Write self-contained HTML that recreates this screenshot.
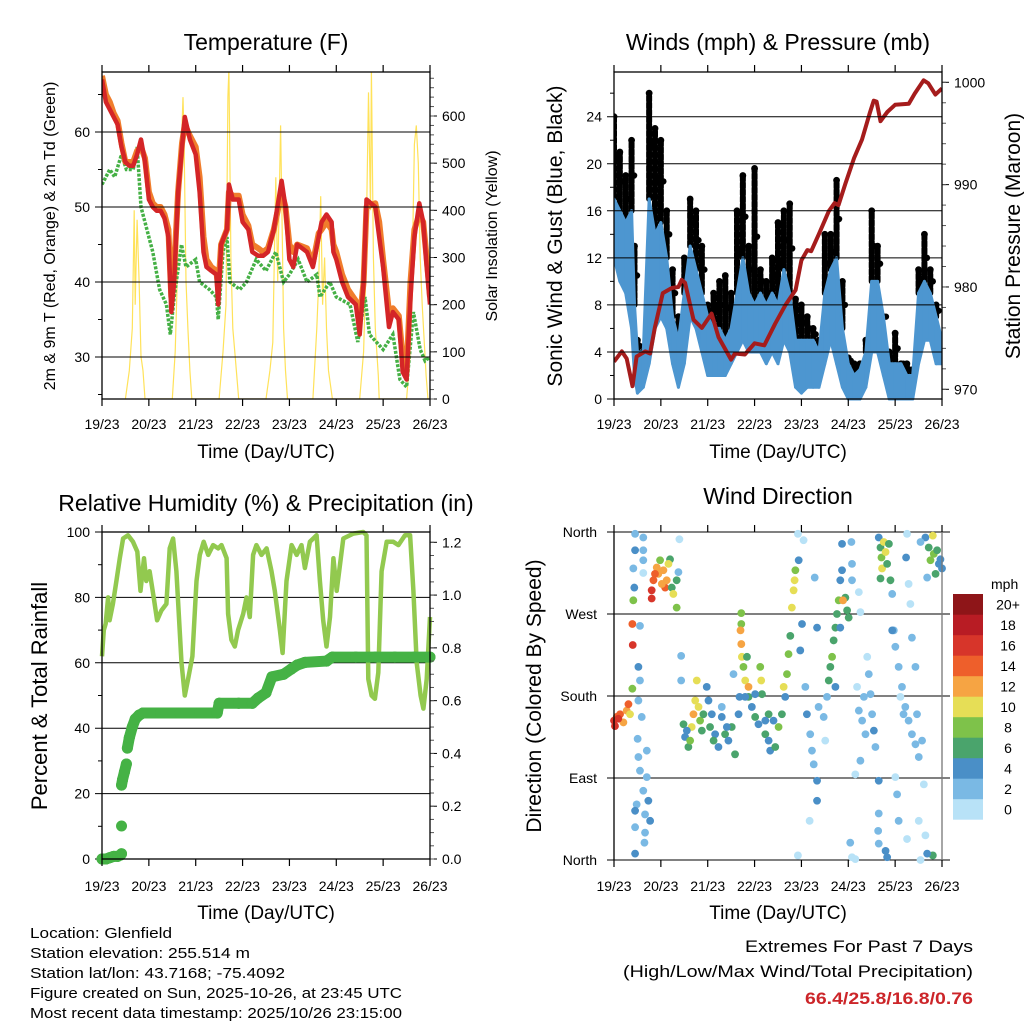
<!DOCTYPE html>
<html><head><meta charset="utf-8"><style>
html,body{margin:0;padding:0;background:#fff}
svg{display:block;font-family:"Liberation Sans",Arial,sans-serif}
</style></head><body>
<svg id="c" width="1024" height="1024" viewBox="0 0 1024 1024"></svg>
<script>
// ---------- DATA ----------
const dayLabels=["19/23","20/23","21/23","22/23","23/23","24/23","25/23","26/23"];
// Temperature (F)
const tempT=[0,2,4,6,8,10,12,14,16,18,20,22,24,26,28,30,32,34,35.5,37,39,41,42.4,45,48,50,52,53.5,56,58.6,59.5,61,64,65,67,70,72,75,77,80,82.5,85,88,92,94,96,98,100,105,108,111,112.5,115,117.6,118.5,120,123,126,130,132,134,135.5,140,142,144,147,149,152,154,156,158,160,162.5,164.5,166,168];
const temp2m=[67,64,63,62,61,58,56,55.5,55.5,57,59,56,51,50,49.5,49.5,48.5,46,36,40,52,58,62,59,57,52,44,42,41.5,41,37,45,47,53,51,51,48,47,44,43.5,43.5,44,47,53.5,50,43,42,45,44,42,46,48,49,48,44,43,40,38,37,33,40,51,50,46,42,34,36,35,28,27,38,46,50.5,48,43,37];
const temp9m=[67.5,65,64,62.5,61.5,58.5,56,56,56,57.5,58,56.5,52,50.5,50,50,49,47,38,42,52,58.5,61,59.5,58,54,46,43,42,41.5,39,45,47,52,51.5,51.5,49,47.5,45,44.5,44,44.5,47,52,50,45,44,45,44.5,42.5,46.5,47,48,47,45,44,41,39,37.5,35,40,50,50.5,48,43,36,36.5,35.5,30,28,40,47,49,48,44,38];
const dewT=[0,4,6.5,10,12.5,16,18,20,23,26,29.5,33,35,37,40.7,43,48,50,55,58.6,59.5,62,64,65.5,70.6,74,79,84,89,93,96,100.5,105,110,111.6,116.7,120,127,131,134.7,137,144,149,152.6,156,159.5,163,165.5,168];
const dewF=[53,55,54,57,55,55,58,50,47,44,39,37,33,38,45,42,43,40,39,38,35,44,46,40,39,40,43,41.5,44,40,41,43,40,41,38,40,38,37,32,38,33,31,33,27,26,36,31,29.5,30];
// Solar insolation
const solT=[12,14,15.5,16.5,17,18,19,20,21,22,36,37.5,38.5,39.5,40.5,41.5,42,43,44,45,46,60,62,63.5,64.5,65,66,67,68,70,84,86,87.5,89,90,91.5,92.5,93,94,95,108,110,111,112,113,114,115,116,118,132,134,135,136.5,137.5,138,139,140,141.5,142,156,157.5,159,160,161,162,163,164,166,167];
const solV=[0,60,150,400,200,380,250,90,60,0,0,100,250,450,520,640,560,250,150,60,0,0,100,200,640,700,300,150,100,0,0,60,120,470,250,580,300,150,60,0,0,150,250,430,200,300,150,60,0,0,100,250,650,400,700,300,150,50,0,0,80,300,540,580,500,300,200,50,0];
// Winds (mph)
const windT=[0,3,6,9,10.5,12,15,18,21,24,27,30,33,36,39,42,45,48,51,54,57,60,63,66,69,72,75,78,81,84,87,90,93,96,99,102,105,108,111,114,117,120,123,126,129,132,135,138,141,144,147,150,153,156,159,162,165,168];
const windLo=[12,10,9,6,2,0.5,1,3,6,7,6,3,1,3,7,6,4,2,2,2,2,3,4,5,4,4,4,3,4,3,5,4,1,0.5,1,1,1,3,5,3,1,0,0,0,1,4,4,2,0,0,0,0,0,3,5,5,3,3];
const windHi=[17,16,15,16,8,4,4,17,14,15,12,7,5,9,13,11,9,7,6,6,5,6,9,12,9,8,9,8,9,8,11,9,5,5,5,5,4,9,11,12,6,3,2,2.5,4,10,10,7,3,3,3,2,2,9,10,9,7,5];
const gustHi=[24,21,19,22,13,5,4,26,23,22,16,11,7,12,17,16,13,8,9,10,10.5,9,16,19,13,19.6,11,10,12,15,16,16.6,8.5,8,7,6,5,14,14,18.6,10,3.5,3,3,5,16,13,7,4,5.6,3,3,2.5,11,14,11,8,5];
// Station pressure (mb)
const presT=[0,4,6.5,9.5,11.6,16,18.5,21,25,29.6,33,34.7,36.4,40.7,45,50,53.5,60,62,67,72,77,82.5,87.7,93,96,99,101,105,110,113,115,118.5,123,127,131,133,134.5,136.5,140,144,151,154,158.6,161,164.6,168];
const presV=[972.7,973.7,973.0,970.3,973.2,973.7,973.5,976.1,979.4,979.9,980.0,980.7,980.4,976.8,976.0,977.4,975.1,972.9,973.5,973.4,974.5,974.3,976.4,978.2,979.7,982.6,983.6,983.5,985.2,987.4,988.2,988.0,990.1,992.6,994.4,997.0,998.2,998.1,996.2,997.1,997.8,997.9,998.9,1000.2,999.9,998.8,999.4];
// Relative humidity (%)
const rhT=[0,0.9,1.9,3.1,3.9,5.6,7.4,9.1,10.8,13.3,15.9,18.1,19.7,21.5,22.7,24.4,26.5,28.2,30.4,33,34.7,36.4,38.1,40.7,42.4,44.1,46.3,48.4,50.1,52.1,54.4,56.9,59.5,61.2,63.8,64.6,66.3,68,69.7,72.3,74,75.7,77.4,79.1,81.7,84.3,86.8,88.5,91.1,92.5,94.5,97.1,99.7,102.2,103.9,106.5,109.9,111.6,113.3,115,116.8,118.5,120.2,121.9,123.6,128.7,133.8,135.5,136.4,138.1,139.8,141.5,143.2,145.8,149.2,151.8,155.2,157.8,159.5,161.2,163.2,164.6,166.3,168];
const rhV=[62,70,72,80,73,78,85,92,98,99,97,94,82,92,85,88,80,73,76,78,95,98,88,60,50,55,62,85,93,97,93,96,95,96,92,75,67,65,70,75,80,74,93,96,93,95,88,82,70,63,85,96,93,96,89,97,99,85,73,65,74,92,82,90,98,99.5,100,99,55,50,49,57,88,97,97,96,99,99,82,60,50,46,55,74];
// Total precipitation (in)
const prT=[0,2,4,6,8,9.5,10,10,10,10.5,11.5,12.5,13,14,15.5,17,19,21,30,40,50,59,60,70,77,80,84,87,93,97,100,104,115,118,130,140,150,160,168];
const prV=[0,0,0.005,0.01,0.01,0.015,0.02,0.125,0.28,0.3,0.33,0.36,0.42,0.46,0.5,0.53,0.545,0.553,0.553,0.553,0.553,0.553,0.59,0.59,0.59,0.61,0.63,0.69,0.7,0.72,0.735,0.745,0.75,0.765,0.765,0.765,0.765,0.765,0.765];
// Wind direction (deg) and speed (mph)
const dirT=[0,1.4,3.1,4.8,6.5,7.4,8.2,0.5,2.2,10.8,15,10.8,15,15,9.9,15,10.4,9.9,9.4,9.6,13.3,12.5,13.3,12.5,14.2,12.1,12.5,16.8,13.3,16.8,15,17.6,11.6,10.8,15.9,18.5,10.8,15.9,10.8,15.6,9.4,
19.3,19.3,20.2,21.9,22.7,23.6,25.3,26.2,27,28.7,29.6,30.4,32.1,32.1,33,33.5,27.9,21,24.5,
34.4,34.4,35.6,36.4,38.1,39.8,40.7,41.6,42.4,43.3,44.1,45,45.8,39,37.3,
47.5,48.4,50.1,51.8,53.5,55.2,56.9,58.6,60.3,62,63.8,64.3,55.2,61.2,51,49.2,57.8,
65.2,65.2,64.8,65.2,65.5,66.3,67.2,68.9,68.1,68.9,70.6,72.3,74,74.9,75.4,75.8,77.5,79.2,80,81.7,82.6,84.3,86,86.9,88.6,89.4,90.3,91.1,92,92.5,92.9,94.2,94.6,96.3,95.4,97.1,98,98.8,100.5,101.4,102.3,104,104,100.2,102.8,104,104.8,107.4,108.2,109.1,94.2,67.2,72.3,79.2,87.7,77.5,
110,110.8,111.7,112.5,113.4,114.2,115.1,115.9,116.8,118.5,119.4,120.2,117.3,116.8,121.6,121.9,121.9,113.4,115.9,121,121.9,123.6,
124.5,125.4,127.1,128.8,129.7,130.5,131.4,132.2,133.1,133.9,123.6,126.2,125.4,126.2,128,
135.6,136.5,137,137.3,138.2,139.1,139.9,140.8,141.6,136.5,142.5,135.6,135.3,135.6,139.1,139.9,135.6,
143.3,144.1,145.8,147.5,149.2,150.9,152.6,154.4,156.1,157.8,144.1,145,145.8,150.1,150.9,151.8,152.6,154.4,149.6,150.1,157,159.5,158.7,156.1,142.5,146.7,148.3,155.2,
159.5,161.2,162.1,163.3,163.8,164.7,165.5,166.4,167.2,168,160.4,163.3,160.4,157];
const dirV=[153,157,160,151,164,171,160,147,155,358,354,340,340,329,320,315,299,285,259,236,257,212,197,175,157,133,113,120,98,91,76,65,61,54,50,43,36,30,7,19,188,
296,287,307,321,314,329,318,299,307,330,299,292,307,277,316,352,325,314,303,
224,197,149,135,124,146,160,175,197,168,153,142,160,131,142,
190,175,160,138,124,157,138,131,146,116,160,179,168,204,131,146,146,
271,259,252,237,223,212,197,190,223,179,168,157,149,212,197,182,138,131,120,153,124,146,160,190,204,226,246,277,296,307,318,358,329,259,230,351,190,160,138,120,105,87,65,43,310,255,168,157,131,179,5,179,182,160,179,153,
197,212,223,241,255,270,285,307,318,288,274,266,285,347,349,325,307,190,255,19,3,1,
190,164,153,138,223,204,182,160,142,124,94,109,294,272,179,
354,343,332,320,349,338,325,347,307,309,292,87,32,51,10,3,18,
252,234,212,190,168,153,138,127,113,131,91,72,43,358,303,281,244,212,332,23,0,27,83,43,252,179,160,160,
354,343,329,356,336,314,340,325,330,320,310,5,7,349];
const dirS=[16,14,14,12,12,14,10,16,16,2,2,4,2,2,2,0,4,8,14,16,2,4,2,2,2,2,2,2,2,2,2,4,2,4,2,4,2,2,4,2,8,
16,16,14,12,12,8,12,14,12,6,6,10,6,8,2,0,10,14,12,
2,2,6,4,6,10,12,10,10,10,8,6,6,8,4,
4,4,4,4,4,4,6,4,6,6,4,4,2,2,6,6,4,
8,8,12,12,10,8,10,12,6,6,4,6,4,8,10,6,6,4,4,4,6,8,6,10,8,8,6,10,10,10,8,0,4,4,4,0,2,4,2,2,2,4,4,0,2,4,2,2,0,2,0,4,4,6,4,4,
6,6,8,6,6,6,8,4,4,6,6,6,12,4,2,2,2,4,4,2,0,0,
0,2,2,2,0,2,2,2,4,2,0,2,0,0,2,
4,6,8,10,10,10,6,6,6,6,2,4,2,2,4,4,2,
2,2,2,2,2,2,2,2,2,2,0,2,2,0,0,0,2,2,4,0,0,0,0,0,4,0,2,2,
4,6,8,10,8,6,6,4,4,4,2,6,4,2];
const speedLabels=["0","2","4","6","8","10","12","14","16","18","20+"];
const speedColors=["#b8e2f7","#7ab9e4","#4a8fc7","#4aa46c","#7ec24a","#e6de56","#f6a443","#ee5f2b","#d7352a","#b81c24","#8e1518"];

// ---------- DRAW ----------
const NS="http://www.w3.org/2000/svg";
const svg=document.getElementById('c');
function el(tag,attrs,parent){const e=document.createElementNS(NS,tag);for(const k in attrs)e.setAttribute(k,attrs[k]);(parent||svg).appendChild(e);return e;}
function txt(s,attrs,parent){const e=el('text',attrs,parent);e.textContent=s;return e;}
function lin(d0,d1,r0,r1){return v=>r0+(v-d0)*(r1-r0)/(d1-d0);}
function pathOf(ts,vs,X,Y){let d='';for(let i=0;i<ts.length;i++)d+=(i?'L':'M')+X(ts[i]).toFixed(1)+' '+Y(vs[i]).toFixed(1);return d;}

function panel(name,L,T,R,B){
  const g=el('g',{});
  
  
  const X=lin(0,168,L,R);
  return {g,X,L,T,R,B};
}
function frameAndX(p,labelY,titleY){
  const g=p.g;
  const fr=el('rect',{x:p.L,y:p.T,width:p.R-p.L,height:p.B-p.T,fill:'none',stroke:'#000','stroke-width':1.3},g);
  
  
  for(let i=0;i<dayLabels.length;i++){
    const x=p.X(i*24);
    el('line',{x1:x,y1:p.B,x2:x,y2:p.B+7,stroke:'#000','stroke-width':1.2},g);
    el('line',{x1:x,y1:p.T,x2:x,y2:p.T-7,stroke:'#000','stroke-width':1.2},g);
    const t=txt(dayLabels[i],{x:x,y:labelY,'font-size':14,'text-anchor':'middle'},g);
    
    
  }
  const xt=txt('Time (Day/UTC)',{x:(p.L+p.R)/2,y:titleY,'font-size':19,'text-anchor':'middle'},g);
  
  
}
function leftAxis(p,Y,ticks,labels,minor,fs){
  const g=p.g;
  ticks.forEach((v,i)=>{const y=Y(v);
    el('line',{x1:p.L-7,y1:y,x2:p.R,y2:y,stroke:'#000','stroke-width':1},g);
    const t=txt(labels[i],{x:p.L-12,y:y+5,'font-size':fs||14,'text-anchor':'end'},g);
    
    });
  (minor||[]).forEach(v=>{const y=Y(v);el('line',{x1:p.L-4,y1:y,x2:p.L,y2:y,stroke:'#000','stroke-width':1},g);});
}
function rightAxis(p,Y,ticks,labels,minor){
  const g=p.g;
  ticks.forEach((v,i)=>{const y=Y(v);
    el('line',{x1:p.R,y1:y,x2:p.R+7,y2:y,stroke:'#000','stroke-width':1},g);
    const t=txt(labels[i],{x:p.R+12,y:y+5,'font-size':14},g);
    
    });
  minor.forEach(v=>{const y=Y(v);if(y>=p.T-1&&y<=p.B+1)el('line',{x1:p.R,y1:y,x2:p.R+4,y2:y,stroke:'#555','stroke-width':1},g);});
}
function vtitle(g,s,x,y,fs,name){const t=txt(s,{x:x,y:y,'font-size':fs,'text-anchor':'middle',transform:`rotate(-90 ${x} ${y})`},g);}
function title(s,x,y,name){const t=txt(s,{x:x,y:y,'font-size':23,'text-anchor':'middle'});}
function range(a,b,s){const r=[];for(let v=a;v<=b+1e-9;v+=s)r.push(+v.toFixed(4));return r;}

// ===== Panel 1: Temperature =====
title('Temperature (F)',266,50,'temperature-title');
const p1=panel('temperature-panel',102,72,430,399);
const Y1=lin(30,60,357,132), S1=lin(0,600,399,116);
const cp1=el('clipPath',{id:'cp1'});el('rect',{x:102,y:72,width:328,height:327},cp1);
const g1=el('g',{'clip-path':'url(#cp1)'},p1.g);
const sl=el('path',{d:pathOf(solT,solV,p1.X,S1),fill:'none',stroke:'#ffe25a','stroke-width':1.2},g1);

const dl=el('path',{d:pathOf(dewT,dewF,p1.X,Y1),fill:'none',stroke:'#45b045','stroke-width':3.5,'stroke-dasharray':'3 1.5'},g1);

const ol=el('path',{d:pathOf(tempT,temp9m,p1.X,Y1),fill:'none',stroke:'#f07d2c','stroke-width':6,'stroke-linejoin':'round'},g1);

const rl=el('path',{d:pathOf(tempT,temp2m,p1.X,Y1),fill:'none',stroke:'#d42527','stroke-width':4.5,'stroke-linejoin':'round'},g1);

leftAxis(p1,Y1,[30,40,50,60],['30','40','50','60'],[25,35,45,55,65],14);
rightAxis(p1,S1,range(0,600,100),range(0,600,100).map(String),range(0,680,20));
frameAndX(p1,429,458);
vtitle(p1.g,'2m & 9m T (Red, Orange) & 2m Td (Green)',55,236,16,'temperature-y-title');
vtitle(p1.g,'Solar Insolation (Yellow)',497,236,16,'solar-y-title');

// ===== Panel 2: Winds =====
title('Winds (mph) & Pressure (mb)',778,50,'winds-title');
const p2=panel('winds-panel',614,72,942,399);
const Y2=lin(0,24,399,116.7), P2=lin(970,1000,389.3,82.3);
const cp2=el('clipPath',{id:'cp2'});el('rect',{x:614,y:68,width:328,height:333},cp2);
const g2=el('g',{'clip-path':'url(#cp2)'},p2.g);
for(let i=0;i<windT.length;i++){
  const x=p2.X(windT[i]);
  const gb=el('line',{x1:x,y1:Y2(windHi[i]),x2:x,y2:Y2(gustHi[i]),stroke:'#000','stroke-width':6,'stroke-linecap':'round','stroke-dasharray':'5 2'},g2);
  
  const gd=el('circle',{cx:x,cy:Y2(gustHi[i]),r:3.4,fill:'#000'},g2);
  
  const gd2=el('circle',{cx:x+2.5,cy:Y2((gustHi[i]+windHi[i])/2),r:3.2,fill:'#000'},g2);
  
}
for(let i=0;i<windT.length-1;i++){
  const x0=p2.X(windT[i]),x1=p2.X(windT[i+1]);
  const pg=el('polygon',{points:`${x0},${Y2(windLo[i])} ${x0},${Y2(windHi[i])} ${x1},${Y2(windHi[i+1])} ${x1},${Y2(windLo[i+1])}`,fill:'#4d96d0',stroke:'#4d96d0','stroke-width':3,'stroke-linejoin':'round'},g2);
  
}
const pl=el('path',{d:pathOf(presT,presV,p2.X,P2),fill:'none',stroke:'#a51c1c','stroke-width':4,'stroke-linejoin':'round'},g2);

leftAxis(p2,Y2,range(0,24,4),range(0,24,4).map(String),range(2,26,4),14);
rightAxis(p2,P2,[970,980,990,1000],['970','980','990','1000'],range(968,1002,2));
frameAndX(p2,429,458);
vtitle(p2.g,'Sonic Wind & Gust (Blue, Black)',562,236,21,'wind-y-title');
vtitle(p2.g,'Station Pressure (Maroon)',1020,236,21,'pressure-y-title');

// ===== Panel 3: RH & precip =====
title('Relative Humidity (%) & Precipitation (in)',266,511,'humidity-title');
const p3=panel('humidity-panel',102,532,430,859);
const Y3=lin(0,100,859,532), R3=lin(0,1.2,859,542.3);
leftAxis(p3,Y3,range(0,100,20),range(0,100,20).map(String),[10,30,50,70,90],14);
const g3=p3.g;
const rh=el('path',{d:pathOf(rhT,rhV,p3.X,Y3),fill:'none',stroke:'#92c94f','stroke-width':4.5,'stroke-linejoin':'round'},g3);

for(let i=0;i<prT.length;i++){
  if(i>0&&Math.abs(prV[i]-prV[i-1])<0.06){
    const ps=el('line',{x1:p3.X(prT[i-1]),y1:R3(prV[i-1]),x2:p3.X(prT[i]),y2:R3(prV[i]),stroke:'#45b245','stroke-width':11,'stroke-linecap':'round'},g3);
    
  }
  const pd=el('circle',{cx:p3.X(prT[i]),cy:R3(prV[i]),r:5.5,fill:'#45b245'},g3);
  
}
rightAxis(p3,R3,range(0,1.2,0.2),['0.0','0.2','0.4','0.6','0.8','1.0','1.2'],range(0,1.24,0.05));
frameAndX(p3,891,919);
vtitle(g3,'Percent & Total Rainfall',47,696,22,'humidity-y-title');

// ===== Panel 4: Wind direction =====
title('Wind Direction',778,504,'wind-direction-title');
const p4=panel('wind-direction-panel',614,532,942,860);
const D4=lin(0,360,860,532);
const g4=p4.g;
[0,90,180,270,360].forEach((v,i)=>{const y=D4(v);
  el('line',{x1:p4.L-7,y1:y,x2:p4.R+8,y2:y,stroke:'#000','stroke-width':1.1},g4);
  const t=txt(['North','East','South','West','North'][i],{x:p4.L-17,y:y+5,'font-size':14,'text-anchor':'end'},g4);
  
});
for(let i=0;i<dirT.length;i++){
  const ci=Math.min(10,Math.floor(dirS[i]/2));
  const c=el('circle',{cx:p4.X(dirT[i]),cy:D4(dirV[i]),r:3.9,fill:speedColors[ci]},g4);
  
}
el('line',{x1:p4.L,y1:p4.T,x2:p4.L,y2:p4.B,stroke:'#000','stroke-width':1.3},g4);
el('line',{x1:p4.R,y1:p4.T,x2:p4.R,y2:p4.B,stroke:'#777','stroke-width':1.3},g4);
for(let i=0;i<dayLabels.length;i++){
  const x=p4.X(i*24);
  el('line',{x1:x,y1:p4.B,x2:x,y2:p4.B+7,stroke:'#000','stroke-width':1.2},g4);
  el('line',{x1:x,y1:p4.T,x2:x,y2:p4.T-7,stroke:'#000','stroke-width':1.2},g4);
  const t=txt(dayLabels[i],{x:x,y:891,'font-size':14,'text-anchor':'middle'},g4);
  
}
const xt4=txt('Time (Day/UTC)',{x:778,y:919,'font-size':19,'text-anchor':'middle'},g4);

vtitle(g4,'Direction (Colored By Speed)',541,696,21,'direction-y-title');
// legend
const lg=el('g',{});

txt('mph',{x:991,y:589,'font-size':14},lg);
for(let i=0;i<11;i++){
  const y=594+(10-i)*20.5;
  const r=el('rect',{x:953,y:y,width:30,height:20.7,fill:speedColors[i]},lg);
  
  const t=txt(speedLabels[i],{x:1008,y:y+15.5,'font-size':14,'text-anchor':'middle'},lg);
  
}

// ===== Footer =====
const info=["Location: Glenfield","Station elevation: 255.514 m","Station lat/lon: 43.7168; -75.4092","Figure created on Sun, 2025-10-26, at 23:45 UTC","Most recent data timestamp: 2025/10/26 23:15:00"];
const infoW=[142,220,255,372,372];
info.forEach((s,i)=>{const t=txt(s,{x:30,y:938+i*20,'font-size':15,textLength:infoW[i],lengthAdjust:'spacingAndGlyphs'});});
const e1=txt('Extremes For Past 7 Days',{x:973,y:952,'font-size':17,'text-anchor':'end',textLength:228,lengthAdjust:'spacingAndGlyphs'});

const e2=txt('(High/Low/Max Wind/Total Precipitation)',{x:973,y:977,'font-size':17,'text-anchor':'end',textLength:350,lengthAdjust:'spacingAndGlyphs'});

const e3=txt('66.4/25.8/16.8/0.76',{x:973,y:1004,'font-size':17,'font-weight':'bold',fill:'#cc2529','text-anchor':'end',textLength:168,lengthAdjust:'spacingAndGlyphs'});

</script>
</body></html>
